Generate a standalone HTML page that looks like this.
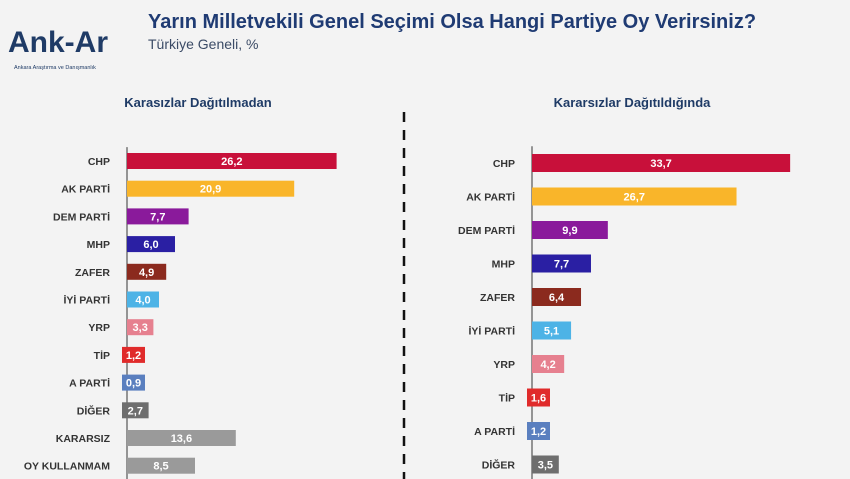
<!DOCTYPE html>
<html><head><meta charset="utf-8"><style>
html,body{margin:0;padding:0;width:850px;height:479px;overflow:hidden;background:#f2f2f2;font-family:"Liberation Sans",sans-serif}
svg{display:block}
</style></head><body>
<svg id="chart" width="850" height="479" viewBox="0 0 850 479" xmlns="http://www.w3.org/2000/svg">
<rect width="850" height="479" fill="#f3f3f3"/>
<g>
<text x="8" y="52" font-size="30" font-weight="bold" fill="#1f3b66" font-family="Liberation Sans, sans-serif">Ank-Ar</text>
<text x="14" y="69" font-size="5.5" fill="#1f3b66">Ankara Araştırma ve Danışmanlık</text>
</g>
<text x="148" y="28" font-size="20" font-weight="bold" fill="#1f3b73">Yarın Milletvekili Genel Seçimi Olsa Hangi Partiye Oy Verirsiniz?</text>
<text x="148" y="49" font-size="14" fill="#3b4b66">Türkiye Geneli, %</text>
<text x="198" y="107" font-size="13" font-weight="bold" text-anchor="middle" fill="#1f3b66">Karasızlar Dağıtılmadan</text>
<text x="632" y="107" font-size="13" font-weight="bold" text-anchor="middle" fill="#1f3b66">Kararsızlar Dağıtıldığında</text>
<line x1="404" y1="112" x2="404" y2="479" stroke="#111" stroke-width="2.5" stroke-dasharray="10,8"/>
<g id="left"></g><g id="right"></g>
</svg>
<script>
const leftCategories=["CHP","AK PARTİ","DEM PARTİ","MHP","ZAFER","İYİ PARTİ","YRP","TİP","A PARTİ","DİĞER","KARARSIZ","OY KULLANMAM"];
const leftValues=[26.2,20.9,7.7,6.0,4.9,4.0,3.3,1.2,0.9,2.7,13.6,8.5];
const rightCategories=["CHP","AK PARTİ","DEM PARTİ","MHP","ZAFER","İYİ PARTİ","YRP","TİP","A PARTİ","DİĞER"];
const rightValues=[33.7,26.7,9.9,7.7,6.4,5.1,4.2,1.6,1.2,3.5];
const partyColors={"CHP":"#c8103a","AK PARTİ":"#f9b52a","DEM PARTİ":"#8a1a9b","MHP":"#2a1fa3","ZAFER":"#8b2a1e","İYİ PARTİ":"#4db3e6","YRP":"#e6808f","TİP":"#e02b2b","A PARTİ":"#5a7fbf","DİĞER":"#6e6e6e","KARARSIZ":"#9a9a9a","OY KULLANMAM":"#9a9a9a"};
const NS="http://www.w3.org/2000/svg";
function draw(gid,cats,vals,cfg){
  const g=document.getElementById(gid);
  const x=v=>cfg.x0+v*cfg.scale;
  const y=i=>cfg.y0+i*cfg.step;
  const ax=document.createElementNS(NS,"line");
  
  
  ax.setAttribute("x1",cfg.x0);ax.setAttribute("x2",cfg.x0);ax.setAttribute("y1",cfg.y0-cfg.step/2);ax.setAttribute("y2",479);
  ax.setAttribute("stroke","#555");ax.setAttribute("stroke-width","1.2");g.appendChild(ax);
  cats.forEach((c,i)=>{
    const cy=y(i),w=x(vals[i])-cfg.x0;
    const r=document.createElementNS(NS,"rect");
    
    
    let bx=cfg.x0,bw=w;
    if(w<22){bx=cfg.x0-5;bw=Math.max(w+5,23);}
    r.setAttribute("x",bx);r.setAttribute("y",cy-cfg.h/2);r.setAttribute("width",bw);r.setAttribute("height",cfg.h);
    r.setAttribute("fill",partyColors[c]);g.appendChild(r);
    const t=document.createElementNS(NS,"text");
    
    
    t.setAttribute("x",bx+bw/2);t.setAttribute("y",cy+4);t.setAttribute("text-anchor","middle");
    t.setAttribute("font-size","11");t.setAttribute("font-weight","bold");t.setAttribute("fill","#fff");
    t.textContent=vals[i].toFixed(1).replace(".",",");g.appendChild(t);
    const l=document.createElementNS(NS,"text");
    
    
    l.setAttribute("x",cfg.x0-17);l.setAttribute("y",cy+4);l.setAttribute("text-anchor","end");
    l.setAttribute("font-size","10.5");l.setAttribute("font-weight","bold");l.setAttribute("fill","#333");
    l.textContent=c;g.appendChild(l);
  });
}
draw("left",leftCategories,leftValues,{x0:127,scale:8.0,y0:161,step:27.7,h:16});
draw("right",rightCategories,rightValues,{x0:532,scale:7.66,y0:163,step:33.5,h:18});
</script>
</body></html>
